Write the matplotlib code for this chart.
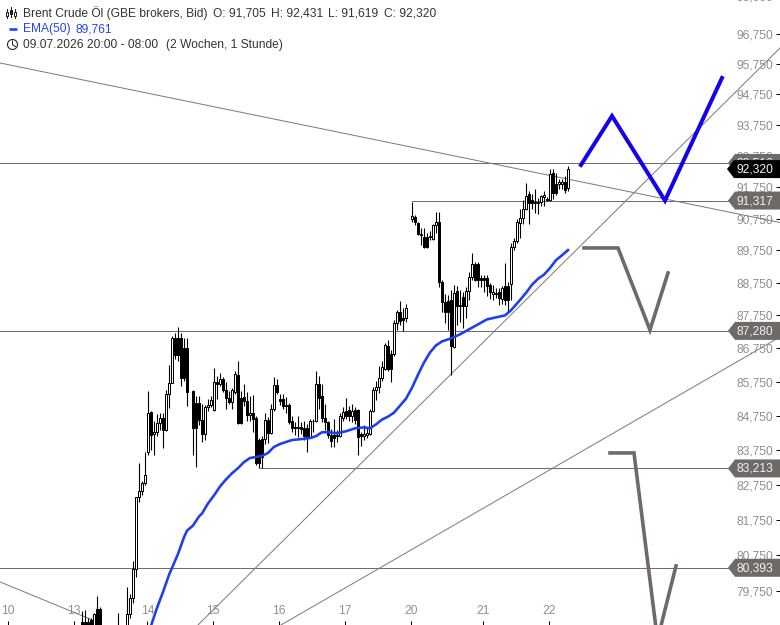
import numpy as np
import matplotlib
matplotlib.use('Agg')
import matplotlib.pyplot as plt
from matplotlib.patches import Polygon, Circle
from matplotlib.transforms import IdentityTransform
from matplotlib.ticker import NullLocator

plt.rcParams['font.family'] = ['Liberation Sans', 'DejaVu Sans']

nan = float('nan')

# Hourly candles, one entry per bar, nan where the bar sits below the visible range
opens = [78900, 78900, 78900, 78950, 78760, 79255, 79255, nan, nan, nan, nan, nan, 78700, nan, nan,
         78760, 79117, 79560, 80361, 82378, 82550, 82779, 83691, 84868, 84207, 84264, 84521, 84693, 84321, 85397,
         85721, 87053, 87053, 87053, 86750, 86750, nan, 85485, 85132, 85132, 84636, 84207, 85015, 85074, 84926,
         85750, 85691, 85841, 85515, 85279, 85162, 85456, 85962, 85279, 85309, 85191, 84779, 84838, 84693, 84036,
         84064, 84064, 84636, 84236, 84956, 85662, 85250, 85250, 85044, 85074, 84579, 84379, 84379, 84407, 84379,
         84379, 84121, 84579, 84579, 85691, 85338, 84693, 84550, 84179, 84179, 84150, 84150, 84693, 84897, 84926,
         84750, 84926, 84926, 84207, 84150, 84179, 84207, 84897, 85515, 85603, 85871, 86144, 86811, 86568, 86568,
         87508, 87844, 87659, 87659, nan, 90750, 90812, 90594, 90219, 90156, 90156, 90156, 90094, 90531, 90625,
         88780, 88156, 88187, 88219, 86780, 88500, 88031, 88312, 88031, 88500, 88932, 89326, 89326, 88902, 88902,
         88902, 88688, 88406, 88406, 88469, 88250, 88656, 88656, 88719, 89844, 90031, 90594, 90781, 91062, 91531,
         91344, 91250, 91250, 91281, 91437, 91344, 91344, 92205, 91846, 91846, 91846, 91910, 91705]
highs = [79200, 79230, 79000, 79000, 79145, 79615, 79300, nan, nan, nan, nan, nan, 79145, nan, nan,
         79861, 79670, 80583, 82400, 83368, 82865, 83691, 85485, 84897, 84607, 84809, 84838, 84838, 85515, 86265,
         87114, 87205, 87386, 87205, 87053, 87053, nan, 85515, 85338, 85338, 85103, 85074, 85250, 85338, 86174,
         85932, 86023, 85901, 85750, 85485, 85574, 86083, 86386, 85485, 85691, 85456, 85338, 85368, 84750, 84093,
         84150, 84838, 84721, 85103, 85901, 85841, 85397, 85397, 85309, 85132, 84750, 84550, 84750, 84550, 84607,
         84493, 84664, 84664, 86083, 85932, 85691, 85103, 84607, 84350, 84664, 84321, 84838, 85015, 85279, 85044,
         85103, 85015, 84956, 84264, 84464, 84379, 84956, 85603, 85780, 86235, 86386, 86901, 86992, 86690, 87598,
         87906, 88187, 87969, 88094, nan, 91281, 90875, 90625, 90437, 90437, 90281, 90344, 90562, 90969, 90969,
         88841, 88406, 88375, 88531, 88688, 88656, 88531, 88469, 88625, 89083, 89659, 89386, 89386, 88992, 88992,
         88992, 88750, 88688, 88594, 88594, 88656, 89356, 88780, 89969, 90125, 90750, 91062, 91344, 91878, 91625,
         91531, 91688, 91406, 91500, 91625, 91437, 92335, 92335, 92205, 92005, 92005, 92110, 92431]
lows = [78730, 78680, 78700, 78680, 78700, 78750, 78700, nan, nan, nan, nan, nan, 78650, nan, nan,
        78700, 79010, 79420, 80139, 82235, 82436, 82750, 83603, 83750, 83603, 84150, 84321, 83807, 84293, 84985,
        85992, 86447, 86386, 85632, 85780, 85044, nan, 83603, 83250, 84464, 83979, 84036, 84897, 85015, 84897,
        85250, 85632, 85456, 84956, 85103, 84956, 85397, 84493, 84493, 85044, 84607, 84607, 84264, 83310, 83221,
        83221, 83921, 83950, 84207, 84897, 85397, 85074, 84956, 84838, 84493, 84264, 84179, 84121, 84207, 84036,
        83691, 84093, 84264, 84550, 84956, 84550, 84321, 84093, 83836, 83836, 83979, 84121, 84607, 84664, 84579,
        84550, 84493, 83603, 83864, 84036, 84093, 84179, 84868, 85221, 85426, 85780, 86114, 86083, 85750, 86508,
        87295, 87447, 87265, 87538, nan, 90625, 90531, 90219, 89906, 89812, 89812, 90062, 90062, 90281, 88625,
        87844, 87508, 87295, 85962, 86750, 87447, 87538, 87356, 87659, 88219, 88841, 88810, 88625, 88625, 88469,
        88344, 88250, 88219, 88281, 88062, 88094, 88062, 87844, 88219, 89750, 89969, 90125, 90562, 91030, 90562,
        91062, 90937, 90906, 91156, 91156, 91312, 91312, 91375, 91500, 91688, 91688, 91562, 91619]
closes = [78780, 78760, 78730, 78730, 79117, 78800, 78760, nan, nan, nan, nan, nan, 78780, nan, nan,
          79117, 79560, 80361, 82378, 82550, 82779, 83015, 84838, 84179, 84264, 84521, 84693, 84321, 85397, 85721,
          87053, 86538, 86538, 85871, 85871, 85456, nan, 84379, 84379, 84636, 84207, 85015, 85074, 85221, 85750,
          85691, 85841, 85515, 85279, 85162, 85515, 85992, 84521, 84521, 85191, 84779, 84838, 84664, 83368, 83368,
          83544, 84636, 84236, 84956, 85662, 85456, 85191, 85044, 85074, 84550, 84379, 84407, 84407, 84350, 84150,
          84121, 84579, 84607, 85691, 85279, 84693, 84550, 84179, 84007, 84093, 84179, 84750, 84868, 84750, 84750,
          84897, 84636, 84121, 84150, 84207, 84236, 84897, 85515, 85603, 85871, 86205, 86841, 86144, 86144, 87508,
          87844, 87568, 87598, 87969, nan, 90844, 90625, 90250, 90250, 89844, 89844, 90187, 90531, 90656, 88780,
          88156, 87844, 87844, 86811, 88437, 88031, 88062, 88031, 88500, 88932, 89326, 88841, 88841, 88841, 88841,
          88656, 88469, 88469, 88437, 88281, 88594, 88219, 88219, 89844, 90031, 90625, 90781, 91062, 91470, 91250,
          91250, 91281, 91281, 91470, 91500, 91375, 92175, 91562, 91562, 91910, 91910, 91656, 92320]

ema_bars = [23, 25, 27, 29, 30, 32, 34, 35, 37, 39, 40, 42, 44, 46, 48, 50, 52, 54, 56, 58, 60, 62, 64, 66,
            68, 70, 73, 76, 78, 80, 82, 85, 88, 91, 94, 96, 98, 100, 102, 104, 106, 108, 110, 112, 114, 116,
            118, 120, 123, 126, 129, 132, 135, 138, 141, 143, 146, 148, 150, 152, 154, 156, 158, 160, 162]
ema_values = [78790, 79282, 79720, 80194, 80389, 80778, 81250, 81435, 81580, 81836, 81920, 82207, 82436,
              82693, 82895, 83073, 83221, 83397, 83515, 83544, 83574, 83662, 83836, 83921, 83979, 84036,
              84064, 84093, 84150, 84264, 84264, 84236, 84293, 84379, 84407, 84379, 84493, 84636, 84721,
              84838, 85044, 85250, 85574, 85962, 86326, 86629, 86841, 86962, 87053, 87175, 87326, 87477,
              87629, 87690, 87750, 87906, 88219, 88437, 88688, 88871, 89000, 89205, 89448, 89600, 89761]

# Hand drawn trend lines and scenario paths
trend_lines = [([-27.33, 232.67], [95782, 90625]),
               ([-27.33, 6.0], [80000, 78865]),
               ([38.67, 232.67], [78813, 96281]),
               ([66.33, 232.67], [78813, 87096])]
blue_path_x = [166.33, 176.67, 194.33, 213.33]
blue_path_y = [92452, 94036, 91317, 95285]
grey_path1_x = [167.33, 178.67, 189.33, 195.33]
grey_path1_y = [89828, 89828, 87308, 89052]
grey_path2_x = [176.0, 184.0, 191.83, 198.0]
grey_path2_y = [83661, 83661, 78409, 80446]

# Horizontal levels: price, first bar, label
level_prices = [92516, 91317, 87280, 83213, 80393]
level_starts = [-27.33, 110.0, -27.33, 59.33, -27.33]
level_labels = ['92,516', '91,317', '87,280', '83,213', '80,393']

y_ticks = [96750, 95750, 94750, 93750, 92750, 91750, 90750, 89750, 88750, 87750, 86750, 85750,
           84750, 83750, 82750, 81750, 80750, 79750]
y_tick_labels = ['96,750', '95,750', '94,750', '93,750', '92,750', '91,750', '90,750', '89,750',
                 '88,750', '87,750', '86,750', '85,750', '84,750', '83,750', '82,750', '81,750', '80,750',
                 '79,750']
day_ticks = [-24.67, -2.67, 21.83, 43.67, 65.67, 87.67, 109.67, 133.67, 155.67]
day_labels = ['10', '13', '14', '15', '16', '17', '20', '21', '22']

LINE_GREY = '#6f6c69'
FLAG_GREY = '#6f6a67'
TICK_GREY = '#8f8f8f'
PX = 0.72  # one pixel in points at dpi 100
FS = 12 * PX

fig = plt.figure(figsize=(7.8, 6.25), dpi=100)
ax = fig.add_axes([0, 0, 1, 1])
ax.set_yscale('log')
ax.set_xlim(-27.33, 232.67)
ax.set_ylim(78813, 97898)
for s in ax.spines.values():
    s.set_visible(False)

# axis ticks sit inside the frame, labels next to them
ax.set_yticks(y_ticks)
ax.set_yticklabels(y_tick_labels)
ax.yaxis.set_minor_locator(NullLocator())
ax.tick_params(axis='y', which='major', direction='in', left=False, right=True, labelleft=False,
               labelright=True, length=4 * PX, width=PX, pad=-7 * PX, labelsize=FS, labelcolor=TICK_GREY)
for lbl in ax.get_yticklabels():
    lbl.set_ha('right')
ax.set_xticks(day_ticks)
ax.set_xticklabels(day_labels)
ax.tick_params(axis='x', direction='in', length=4 * PX, width=PX, pad=-8 * PX, labelsize=FS,
               labelcolor=TICK_GREY)
for lbl in ax.get_xticklabels():
    lbl.set_va('bottom')

# levels
for price, start in zip(level_prices, level_starts):
    ax.plot([start, 232.67], [price, price], color=LINE_GREY, lw=PX, zorder=2)
for xs, ys in trend_lines:
    ax.plot(xs, ys, color='#7c7c7c', lw=PX, zorder=2)

# candles
bars = np.arange(len(opens))
o = np.array(opens)
h = np.array(highs)
l = np.array(lows)
c = np.array(closes)
ax.vlines(bars, l, h, color='black', lw=1.1 * PX, zorder=3)
up = c >= o
down = c < o
ax.bar(bars[up], (c - o)[up], bottom=o[up], width=0.6, facecolor='white', edgecolor='black',
       linewidth=PX, zorder=4)
ax.bar(bars[down], (o - c)[down], bottom=c[down], width=0.6, facecolor='black', edgecolor='black',
       linewidth=PX, zorder=4)

ax.plot(ema_bars, ema_values, color='#1c3ff0', lw=2.6 * PX, zorder=5, solid_joinstyle='round')

ax.plot(blue_path_x, blue_path_y, color='#1400f0', lw=4 * PX, zorder=6, solid_joinstyle='miter')
ax.plot(grey_path1_x, grey_path1_y, color=FLAG_GREY, lw=3.6 * PX, zorder=6, solid_joinstyle='miter')
ax.plot(grey_path2_x, grey_path2_y, color=FLAG_GREY, lw=3.6 * PX, zorder=6, solid_joinstyle='miter')

ident = IdentityTransform()
H = 625

# top scale label, mostly cut off by the picture edge
ax.text(773, H + 3, '98,000', transform=ident, color=TICK_GREY, ha='right', va='center', fontsize=FS,
        clip_on=False)


def flag(price, text, color, left=728, z=8):
    # price tag on the right edge, pointing at the level
    ypix = ax.transData.transform((0, price))[1]
    pts = [(left, ypix), (left + 7, ypix + 9), (780, ypix + 9), (780, ypix - 9), (left + 7, ypix - 9)]
    ax.add_patch(Polygon(pts, closed=True, facecolor=color, edgecolor='none', transform=ident, zorder=z,
                         clip_on=False))
    ax.text(773, ypix - 0.5, text, transform=ident, color='#f2f2f2', ha='right', va='center', fontsize=FS,
            zorder=z + 1)


for price, text in zip(level_prices, level_labels):
    flag(price, text, FLAG_GREY)
flag(92320, '92,320', 'black', left=727, z=10)


def label(x, y, text, color='#333333'):
    ax.text(x, H - y, text, transform=ident, color=color, ha='left', va='center', fontsize=FS, zorder=12)


label(23, 13, 'Brent Crude Öl (GBE brokers, Bid)')
label(213, 13, 'O: 91,705')
label(271, 13, 'H: 92,431')
label(328, 13, 'L: 91,619')
label(384, 13, 'C: 92,320')
label(23, 29, 'EMA(50)', '#1f45f5')
label(76, 29, '89,761', '#1f45f5')
label(23, 45, '09.07.2026 20:00 - 08:00')
label(166, 45, '(2 Wochen, 1 Stunde)')

# legend icons, drawn in pixels
for x0, y1, y2, b1, b2, fill in [(7, 9, 18, 12, 16, 'white'), (11, 7, 17, 10, 14, '#222222'),
                                 (15, 9, 18, 12, 16, 'white')]:
    ax.plot([x0, x0], [H - y1, H - y2], color='#222222', lw=PX, transform=ident, zorder=12)
    ax.add_patch(plt.Rectangle((x0 - 1, H - b2), 2, b2 - b1, facecolor=fill,
                               edgecolor='#222222', lw=PX, transform=ident, zorder=13))
ax.plot([9, 17], [H - 29, H - 29], color='#1f45f5', lw=2.6 * PX, transform=ident, zorder=12,
        solid_capstyle='butt')
ax.add_patch(Circle((12.5, H - 44.5), 5, facecolor='none', edgecolor='#222222', lw=1.1 * PX, transform=ident,
                    zorder=12))
ax.plot([12.5, 12.5, 15.5], [H - 41, H - 45, H - 46.5], color='#222222', lw=PX, transform=ident, zorder=12)

fig.savefig('out.png', dpi=100)
